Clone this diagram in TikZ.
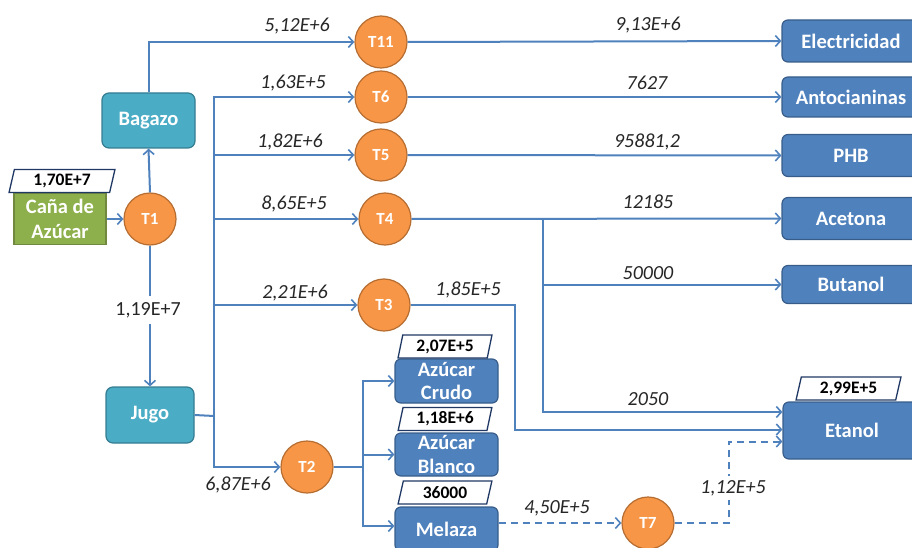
\documentclass[tikz,border=0pt]{standalone}
\usepackage{fontspec}
\setmainfont{Carlito}
\usetikzlibrary{arrows.meta,shapes.geometric}
\definecolor{lineblue}{HTML}{4F81BD}
\definecolor{boxblue}{HTML}{4F81BD}
\definecolor{boxblueb}{HTML}{385D8A}
\definecolor{tcirc}{HTML}{F79646}
\definecolor{tcircb}{HTML}{B66D31}
\definecolor{tealfill}{HTML}{4BACC6}
\definecolor{tealb}{HTML}{357D91}
\definecolor{canefill}{HTML}{8DB04C}
\definecolor{caneb}{HTML}{71893F}
\definecolor{navy}{HTML}{1F3864}
\definecolor{txt}{HTML}{262626}
\tikzset{
  prod/.style={rectangle, rounded corners=6pt, draw=boxblueb, fill=boxblue, line width=1.2pt,
    text=white, font=\bfseries\fontsize{20.5}{23.5}\selectfont, align=center,
    minimum width=138pt, minimum height=42pt, inner sep=0pt},
  sugar/.style={prod, minimum width=103pt, minimum height=44pt},
  tealbox/.style={rectangle, rounded corners=7pt, draw=tealb, fill=tealfill, line width=1.2pt,
    text=white, font=\bfseries\fontsize{20.5}{23.5}\selectfont, inner sep=0pt},
  tnode/.style={circle, fill=tcirc, draw=tcircb, line width=1.2pt, minimum size=52pt,
    inner sep=0pt, text=white, font=\bfseries\fontsize{17}{19}\selectfont},
  tagbox/.style={trapezium, trapezium left angle=77, trapezium right angle=103,
    trapezium stretches=true, draw=navy, fill=white, line width=1.3pt, inner sep=0pt,
    font=\bfseries\fontsize{17.5}{19}\selectfont, text=black, minimum height=23pt},
  flowline/.style={draw=lineblue, line width=2pt},
  flow/.style={flowline, -{Straight Barb[length=5pt,width=11pt,line width=1.6pt]}},
  dflow/.style={flow, dash pattern=on 7pt off 5pt},
  val/.style={font=\itshape\fontsize{20}{22}\selectfont, text=txt, inner sep=1pt},
  valup/.style={font=\fontsize{20}{22}\selectfont, text=txt, fill=white, inner xsep=8pt, inner ysep=6pt}
}
\begin{document}
\begin{tikzpicture}[x=1pt,y=-1pt]
\useasboundingbox (0,0) rectangle (912,548);
\clip (0,0) rectangle (912,548);

% nodes
\node[tealbox, minimum width=92pt, minimum height=51pt, fill=canefill, draw=caneb,
      align=center, font=\bfseries\fontsize{20.5}{25}\selectfont, rounded corners=0pt] (cane) at (60,219) {Caña de\\Azúcar};
\node[tagbox, minimum width=106pt] (tagcane) at (62,181) {1,70E+7};
\node[tnode] (T1) at (150,219) {T1};
\node[tealbox, minimum width=93pt, minimum height=55pt] (bagazo) at (148.5,120.5) {Bagazo};
\node[tealbox, minimum width=88pt, minimum height=56pt] (jugo) at (150,415) {Jugo};

\node[tnode] (T11) at (381,42) {T11};
\node[tnode] (T6) at (381,97) {T6};
\node[tnode] (T5) at (381,155) {T5};
\node[tnode] (T4) at (385,219) {T4};
\node[tnode] (T3) at (384,305) {T3};
\node[tnode] (T2) at (307,467) {T2};
\node[tnode] (T7) at (648,523) {T7};

\node[prod] (elec) at (851,41) {Electricidad};
\node[prod, minimum height=40pt] (anto) at (851,97) {Antocianinas};
\node[prod] (phb) at (851,155.5) {PHB};
\node[prod] (acet) at (851,218.5) {Acetona};
\node[prod, minimum height=38pt] (buta) at (851,284.5) {Butanol};
\node[prod, minimum height=57pt] (etanol) at (852,430.5) {Etanol};
\node[tagbox, minimum width=105pt] (tagetanol) at (848.5,388.5) {2,99E+5};

\node[sugar] (crudo) at (446.5,381) {Azúcar\\Crudo};
\node[sugar, minimum height=43pt] (blanco) at (446.5,454.5) {Azúcar\\Blanco};
\node[sugar] (melaza) at (446.5,529) {Melaza};
\node[tagbox, minimum width=94pt] (tagcrudo) at (445,346.5) {2,07E+5};
\node[tagbox, minimum width=94pt] (tagblanco) at (445,419) {1,18E+6};
\node[tagbox, minimum width=94pt] (tagmelaza) at (445,492.5) {36000};

% junctions
\coordinate (jbus) at (214,416);
\coordinate (t2bus) at (363,467);
\coordinate (b4) at (543,219);
\coordinate (c3) at (515,305);
\coordinate (c7) at (729,523);

% connectors
\draw[flow] (cane.east) -- (T1.west);
\draw[flow] (T1.north) -- (bagazo.south);
\draw[flow] (bagazo.north) |- (T11.west);
\draw[flow] (T1.south) -- (jugo.north);
\node[valup] (v119) at (148,310) {1,19E+7};

\draw[flowline] (jugo.east) -- (jbus);
\draw[flow] (jbus) |- (T6.west);
\draw[flow] (jbus) |- (T5.west);
\draw[flow] (jbus) |- (T4.west);
\draw[flow] (jbus) |- (T3.west);
\draw[flow] (jbus) |- (T2.west);

\draw[flow] (T11.east) -- (elec.west);
\draw[flow] (T6.east) -- (anto.west);
\draw[flow] (T5.east) -- (phb.west);
\draw[flow] (T4.east) -- (acet.west);
\draw[flow] (b4) |- (buta.west);
\draw[flow] (b4) |- ([yshift=18.5pt]etanol.west);
\draw[flow] (T3.east) -- (c3) |- ([yshift=1pt]etanol.west);

\draw[flowline] (T2.east) -- (t2bus);
\draw[flow] (t2bus) |- (crudo.west);
\draw[flow] (t2bus) |- (blanco.west);
\draw[flow] (t2bus) |- ([yshift=3pt]melaza.west);

\draw[dflow] ([yshift=6pt]melaza.east) -- (T7.west);
\draw[dflow] (T7.east) -- (c7) |- ([yshift=-11pt]etanol.west);
\node[valup, font=\itshape\fontsize{20}{22}\selectfont, inner ysep=4pt] (v112) at (733,488) {1,12E+5};

% flow values
\node[val] (v512) at (297,26) {5,12E+6};
\node[val] (v163) at (293,83) {1,63E+5};
\node[val] (v182) at (290,142) {1,82E+6};
\node[val] (v865) at (294,204) {8,65E+5};
\node[val] (v221) at (295,293) {2,21E+6};
\node[val] (v687) at (238,485) {6,87E+6};
\node[val] (v913) at (648,25) {9,13E+6};
\node[val] (v7627) at (647,83) {7627};
\node[val] (v958) at (647,142) {95881,2};
\node[val] (v12185) at (648,202) {12185};
\node[val] (v50000) at (648,273) {50000};
\node[val] (v2050) at (648,399) {2050};
\node[val] (v185) at (468,290) {1,85E+5};
\node[val] (v450) at (557,508) {4,50E+5};
\end{tikzpicture}
\end{document}
